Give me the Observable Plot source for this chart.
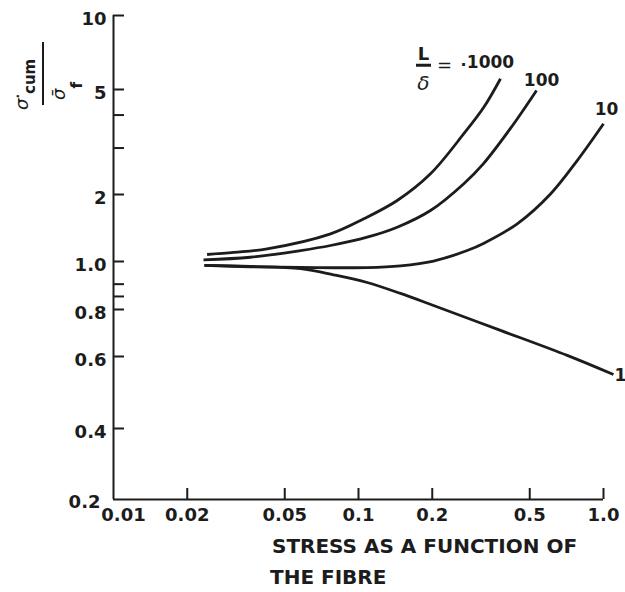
<!DOCTYPE html>
<html>
<head>
<meta charset="utf-8">
<script src="https://cdn.jsdelivr.net/npm/d3@7"></script>
<script src="https://cdn.jsdelivr.net/npm/@observablehq/plot@0.6"></script>
<style>
  body { margin: 0; background: #fff; }
  #chart { width: 625px; height: 592px; }
</style>
</head>
<body>
<div id="chart"></div>
<script>
// ---- data ----
const seriesNames = ["1000", "100", "10", "1"];

const x1000 = [0.0241, 0.031, 0.0424, 0.0769, 0.1051, 0.1439, 0.1967, 0.2691, 0.3246, 0.3798];
const y1000 = [1.075, 1.10, 1.14, 1.331, 1.555, 1.879, 2.396, 3.40, 4.28, 5.53];

const x100 = [0.0233, 0.0362, 0.058, 0.0769, 0.1085, 0.1439, 0.1967, 0.2691, 0.3237, 0.417, 0.533];
const y100 = [1.018, 1.045, 1.12, 1.18, 1.286, 1.426, 1.695, 2.198, 2.62, 3.56, 4.96];

const x10 = [0.0235, 0.0362, 0.058, 0.1085, 0.1484, 0.2024, 0.2778, 0.3237, 0.4445, 0.6076, 0.781, 1.0];
const y10 = [0.982, 0.976, 0.973, 0.972, 0.98, 1.005, 1.12, 1.205, 1.477, 2.01, 2.69, 3.71];

const x1 = [0.0235, 0.0362, 0.058, 0.0791, 0.1085, 0.1484, 0.2024, 0.3798, 0.711, 1.098];
const y1 = [0.982, 0.977, 0.967, 0.94, 0.907, 0.862, 0.815, 0.704, 0.604, 0.542];

const xTickValues = [0.02, 0.05, 0.1, 0.2, 0.5, 1.0];
const xTickLabels = ["0.02", "0.05", "0.1", "0.2", "0.5", "1.0"];
const xFirstTick = 0.01, xFirstLabel = "0.01";

const yTickValues = [0.4, 0.6, 0.8, 0.85, 0.9, 1, 2, 3, 4, 5, 10];
const yLabeled = [0.4, 0.6, 0.8, 1, 2, 5, 10];
const yLabelText = ["0.4", "0.6", "0.8", "1.0", "2", "5", "10"];
const yFirstTick = 0.2, yFirstLabel = "0.2";

const xTitleLines = ["STRESS AS A FUNCTION OF", "THE FIBRE"];

// ---- build tables ----
const xs = [x1000, x100, x10, x1];
const ys = [y1000, y100, y10, y1];
const data = seriesNames.flatMap((s, k) => xs[k].map((x, i) => ({s, x, y: ys[k][i]})));
const lastOf = (s) => { const d = data.filter(e => e.s === s); return [d[d.length - 1]]; };
const xLabelData = xTickValues.map((v, i) => ({v, t: xTickLabels[i]}));
const yLabelData = yLabeled.map((v, i) => ({v, t: yLabelText[i]}));

// The printed y axis is not uniformly logarithmic: piecewise log scale through its labelled values
const yKnots = [0.2, 0.4, 0.6, 0.8, 1, 2, 5, 10];
const yKnotRange = [499, 428, 356, 309, 261, 194, 89, 15];

const ink = "#1c1c1c";
const font = "DejaVu Sans";

const plot = Plot.plot({
  width: 625,
  height: 592,
  marginLeft: 113,
  marginRight: 22,
  marginTop: 15,
  marginBottom: 93,
  style: {fontFamily: font, fontSize: "18px", fontWeight: "bold", color: ink, background: "#fff"},
  x: {type: "log", domain: [0.01, 1], label: null, axis: null},
  y: {type: "log", domain: yKnots, range: yKnotRange, label: null, axis: null},
  marks: [
    // axis frame lines
    Plot.ruleX([xFirstTick], {stroke: ink, strokeWidth: 2}),
    Plot.ruleY([yFirstTick], {stroke: ink, strokeWidth: 2}),
    // inward ticks
    Plot.tickX(xTickValues, {x: d => d, stroke: ink, strokeWidth: 2, insetTop: 473}),
    Plot.tickY(yTickValues, {y: d => d, stroke: ink, strokeWidth: 2, insetRight: 479}),
    // tick labels
    Plot.text(xLabelData, {x: "v", text: "t", frameAnchor: "bottom", lineAnchor: "top", dy: 9, fontSize: 18, fontWeight: "bold", fill: ink}),
    Plot.text([xFirstTick], {x: d => d, text: () => xFirstLabel, frameAnchor: "bottom", lineAnchor: "top", dx: 10, dy: 9, fontSize: 18, fontWeight: "bold", fill: ink}),
    Plot.text(yLabelData, {y: "v", text: "t", frameAnchor: "left", textAnchor: "end", dx: -7, dy: 4, fontSize: 18, fontWeight: "bold", fill: ink}),
    Plot.text([yFirstTick], {y: d => d, text: () => yFirstLabel, frameAnchor: "left", textAnchor: "end", dx: -13, dy: 3, fontSize: 18, fontWeight: "bold", fill: ink}),
    // curves
    Plot.line(data, {x: "x", y: "y", z: "s", curve: "catmull-rom", stroke: ink, strokeWidth: 2.8, strokeLinecap: "butt"}),
    // curve labels
    Plot.text(lastOf("1000"), {x: "x", y: "y", text: d => d.s, dx: -10, dy: -16, fontSize: 17, fontWeight: "bold", fill: ink}),
    Plot.text(lastOf("100"), {x: "x", y: "y", text: d => d.s, dx: 5, dy: -10, fontSize: 17, fontWeight: "bold", fill: ink}),
    Plot.text(lastOf("10"), {x: "x", y: "y", text: d => d.s, dx: 3, dy: -14, fontSize: 17, fontWeight: "bold", fill: ink}),
    Plot.text(lastOf("1"), {x: "x", y: "y", text: d => d.s, dx: 1, dy: 1, textAnchor: "start", fontSize: 17, fontWeight: "bold", fill: ink}),
    // L / delta = . prefix of the 1000 label
    Plot.text(lastOf("1000"), {x: "x", y: "y", text: () => "L", dx: -77, dy: -25, fontSize: 18, fontWeight: "bold", fill: ink}),
    Plot.text(lastOf("1000"), {x: "x", y: "y", text: () => "δ", dx: -77, dy: 5, fontSize: 20, fontWeight: "normal", fontStyle: "italic", fill: ink}),
    Plot.text(lastOf("1000"), {x: "x", y: "y", text: () => "=", dx: -56, dy: -14, fontSize: 18, fontWeight: "normal", fill: ink}),
    Plot.text(lastOf("1000"), {x: "x", y: "y", text: () => "·", dx: -37, dy: -14, fontSize: 16, fontWeight: "bold", fill: ink})
  ]
});

document.getElementById("chart").appendChild(plot);

const sx = plot.scale("x"), sy = plot.scale("y");
const svg = d3.select(plot);
const g = svg.append("g").attr("fill", ink).attr("font-family", font).attr("text-anchor", "start");

// fraction bar of L/δ, placed relative to the end of the 1000 curve
const end1000 = lastOf("1000")[0];
const ex = sx.apply(end1000.x), ey = sy.apply(end1000.y);
g.append("line").attr("x1", ex - 84).attr("x2", ex - 69).attr("y1", ey - 13).attr("y2", ey - 13)
  .attr("stroke", ink).attr("stroke-width", 3);

// y-axis title: sigma_cum over sigma-bar_f, rotated
const num = g.append("text").attr("transform", "translate(28,110) rotate(-90)").attr("text-anchor", "start");
num.append("tspan").attr("font-size", 18).attr("font-style", "italic").attr("font-weight", "normal").text("σ");
num.append("tspan").attr("font-size", 12).attr("font-weight", "bold").attr("dy", -6).text("·");
num.append("tspan").attr("font-size", 15).attr("font-weight", "bold").attr("dy", 13).text("cum");
g.append("line").attr("x1", 43).attr("x2", 43).attr("y1", 42).attr("y2", 105).attr("stroke", ink).attr("stroke-width", 2);
const den = g.append("text").attr("transform", "translate(65,100) rotate(-90)").attr("text-anchor", "start");
den.append("tspan").attr("font-size", 18).attr("font-style", "italic").attr("font-weight", "normal").text("σ\u0304");
den.append("tspan").attr("font-size", 15).attr("font-weight", "bold").attr("dy", 17).text("f");

// x-axis title
g.append("text").attr("x", 272).attr("y", 553).attr("text-anchor", "start").attr("font-size", 20).attr("font-weight", "bold").text(xTitleLines[0]);
g.append("text").attr("x", 270).attr("y", 584).attr("text-anchor", "start").attr("font-size", 20).attr("font-weight", "bold").text(xTitleLines[1]);
</script>
</body>
</html>
